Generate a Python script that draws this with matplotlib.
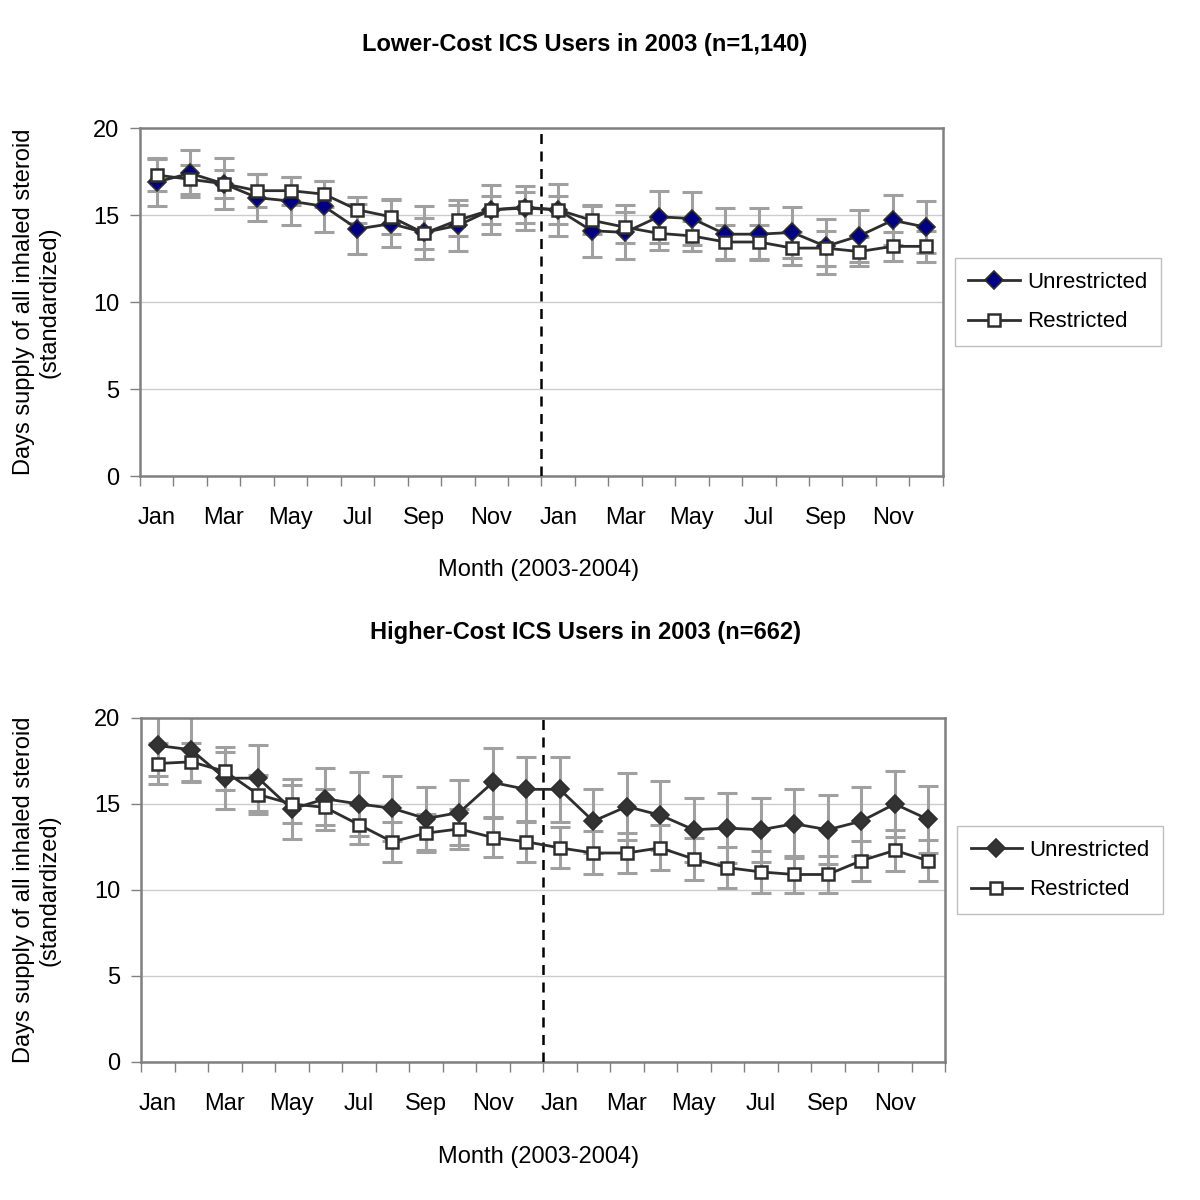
#!/usr/bin/env python3
"""Days supply of inhaled steroid, restricted vs unrestricted, 2003-2004 (two panels)."""
import matplotlib
matplotlib.use("Agg")
import matplotlib.pyplot as plt
from matplotlib import font_manager
import numpy as np

names = {f.name for f in font_manager.fontManager.ttflist}
FONT = "Liberation Sans Narrow" if "Liberation Sans Narrow" in names else "Liberation Sans"
plt.rcParams["font.family"] = [FONT, "DejaVu Sans"]

months = ["Jan", "Feb", "Mar", "Apr", "May", "Jun",
          "Jul", "Aug", "Sep", "Oct", "Nov", "Dec"] * 2
tick_labels = ["Jan", "Mar", "May", "Jul", "Sep", "Nov"] * 2

# lower-cost panel
low_unres = [16.9, 17.4, 16.8, 16.0, 15.8, 15.5, 14.2, 14.5, 14.0, 14.4, 15.3, 15.4,
             15.3, 14.1, 14.0, 14.9, 14.8, 13.9, 13.9, 14.0, 13.2, 13.8, 14.7, 14.3]
low_unres_err = [1.4, 1.35, 1.45, 1.35, 1.4, 1.45, 1.45, 1.35, 1.5, 1.45, 1.4, 1.25,
                 1.5, 1.5, 1.55, 1.5, 1.5, 1.5, 1.5, 1.45, 1.6, 1.5, 1.45, 1.5]
low_res = [17.3, 17.05, 16.8, 16.4, 16.4, 16.2, 15.3, 14.9, 13.95, 14.7, 15.3, 15.45,
           15.3, 14.7, 14.3, 13.95, 13.8, 13.45, 13.45, 13.1, 13.1, 12.9, 13.2, 13.2]
low_res_err = [0.9, 0.85, 0.8, 0.95, 0.8, 0.75, 0.75, 1.0, 0.9, 0.9, 0.8, 0.9,
               0.8, 0.8, 0.9, 0.95, 0.85, 1.0, 1.0, 0.95, 1.0, 0.85, 0.85, 0.9]

# higher-cost panel
high_unres = [18.4, 18.15, 16.5, 16.5, 14.7, 15.3, 15.0, 14.75, 14.15, 14.5, 16.25, 15.85,
              15.85, 14.0, 14.85, 14.35, 13.5, 13.6, 13.5, 13.85, 13.5, 14.0, 15.0, 14.1]
high_unres_err = [1.8, 1.9, 1.8, 1.9, 1.75, 1.8, 1.88, 1.88, 1.85, 1.9, 1.98, 1.9,
                  1.9, 1.85, 1.95, 2.0, 1.85, 2.05, 1.85, 2.0, 2.0, 2.0, 1.9, 1.97]
high_res = [17.35, 17.45, 16.9, 15.55, 15.0, 14.8, 13.8, 12.8, 13.3, 13.55, 13.05, 12.8,
            12.45, 12.15, 12.15, 12.45, 11.8, 11.3, 11.05, 10.9, 10.9, 11.7, 12.3, 11.7]
high_res_err = [1.2, 1.1, 1.1, 1.15, 1.1, 1.05, 1.15, 1.15, 1.1, 1.15, 1.15, 1.2,
                1.2, 1.25, 1.15, 1.3, 1.2, 1.2, 1.2, 1.1, 1.1, 1.15, 1.2, 1.2]

GRID, FRAME, ERR, LINE = "#cccccc", "#808080", "#a0a0a0", "#2e2e2e"
FS = 17

fig = plt.figure(figsize=(12, 12), dpi=100)


def panel(rect, title, title_y, xlab_y, unres, unres_err, res, res_err, dfc, leg_y):
    ax = fig.add_axes(rect)
    x = np.arange(len(months))
    # error bars first so markers sit on top
    ax.errorbar(x, unres, yerr=unres_err, fmt="none", ecolor=ERR, elinewidth=2.2,
                capsize=7, capthick=2.2, zorder=2)
    ax.errorbar(x, res, yerr=res_err, fmt="none", ecolor=ERR, elinewidth=2.2,
                capsize=7, capthick=2.2, zorder=2)
    ax.plot(x, unres, color=LINE, lw=2, marker="D", ms=9, mfc=dfc, mec=LINE,
            mew=1.2, zorder=4, label="Unrestricted")
    ax.plot(x, res, color=LINE, lw=2, marker="s", ms=9, mfc="white", mec=LINE,
            mew=1.8, zorder=5, label="Restricted")
    ax.axvline(11.5, color="black", ls=(0, (4, 3)), lw=1.8, zorder=3)

    ax.set_xlim(-0.5, len(months) - 0.5)
    ax.set_ylim(0, 20)
    ax.set_yticks([0, 5, 10, 15, 20])
    ax.yaxis.grid(True, color=GRID, lw=1)
    ax.set_axisbelow(True)
    ax.set_xticks(x[::2])
    ax.set_xticklabels(tick_labels)
    ax.set_xticks(np.arange(-0.5, len(months)), minor=True)
    ax.tick_params(axis="x", which="major", length=0, pad=22, labelsize=FS)
    ax.tick_params(axis="x", which="minor", length=7, width=1, color=FRAME)
    ax.tick_params(axis="y", length=7, width=1, color=FRAME, labelsize=FS, pad=8)
    for s in ax.spines.values():
        s.set_color(FRAME)
        s.set_linewidth(1.8)

    fig.text(0.4875, title_y, title, ha="center", va="center", fontsize=17,
             fontweight="bold")
    fig.text(0.449, xlab_y, "Month (2003-2004)", ha="center", va="center", fontsize=FS)
    fig.text(0.031, rect[1] + rect[3] / 2,
             "Days supply of all inhaled steroid\n(standardized)",
             rotation=90, ha="center", va="center", fontsize=FS, multialignment="center",
             linespacing=1.2)
    leg = ax.legend(loc="center left", bbox_to_anchor=(1.0, leg_y), borderaxespad=0.55,
                    fontsize=16, frameon=True, fancybox=False, edgecolor="#b0b0b0",
                    handlelength=2.3, borderpad=0.6, labelspacing=0.85, handletextpad=0.35)
    leg.get_frame().set_linewidth(1)
    return ax


panel([0.1167, 0.6033, 0.669, 0.29], "Lower-Cost ICS Users in 2003 (n=1,140)",
      0.9625, 0.525, low_unres, low_unres_err, low_res, low_res_err, "#000080", 0.5)
panel([0.1175, 0.115, 0.67, 0.2867], "Higher-Cost ICS Users in 2003 (n=662)",
      0.4725, 0.036, high_unres, high_unres_err, high_res, high_res_err, "#333333", 0.558)

fig.savefig("out.png", dpi=100)
